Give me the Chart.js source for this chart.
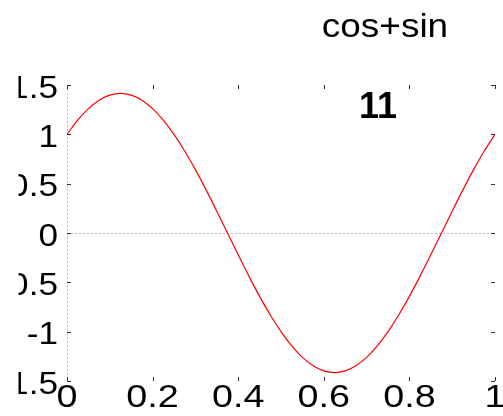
<!DOCTYPE html>
<html>
<head>
<meta charset="utf-8">
<script src="https://cdn.jsdelivr.net/npm/chart.js@4"></script>
<style>
  html, body { margin: 0; padding: 0; background: #fff; }
  #wrap { width: 503px; height: 416px; }
</style>
</head>
<body>
<div id="wrap"><canvas id="c"></canvas></div>
<script>
// sample positions along x and the curve
const xs = [0, 0.025, 0.05, 0.075, 0.1, 0.125, 0.15, 0.175, 0.2, 0.225,
            0.25, 0.275, 0.3, 0.325, 0.35, 0.375, 0.4, 0.425, 0.45, 0.475,
            0.5, 0.525, 0.55, 0.575, 0.6, 0.625, 0.65, 0.675, 0.7, 0.725,
            0.75, 0.775, 0.8, 0.825, 0.85, 0.875, 0.9, 0.925, 0.95, 0.975, 1];
const ys = [1, 1.1441, 1.2601, 1.345, 1.3968, 1.4142, 1.3968, 1.345, 1.2601, 1.1441,
            1, 0.8313, 0.6421, 0.437, 0.2212, 0, -0.2212, -0.437, -0.6421, -0.8313,
            -1, -1.1441, -1.2601, -1.345, -1.3968, -1.4142, -1.3968, -1.345, -1.2601, -1.1441,
            -1, -0.8313, -0.6421, -0.437, -0.2212, 0, 0.2212, 0.437, 0.6421, 0.8313, 1];

const xTickLabels = ['0', '0.2', '0.4', '0.6', '0.8', '1'];
const yTickLabels = ['-1.5', '-1', '-0.5', '0', '0.5', '1', '1.5'];
const titleText = 'cos+sin';
const noteText = '11';

const points = xs.map((x, i) => ({ x: x, y: ys[i] }));

// text in the picture is a bit wider than plain Arial, so stretch it sideways
function wideText(ctx, txt, x, y, stretch, align) {
    ctx.save();
    ctx.translate(x, y);
    ctx.scale(stretch, 1);
    ctx.textAlign = align;
    ctx.fillText(txt, 0, 0);
    ctx.restore();
}

// tick marks inside the box + big tick labels, matlab style
const axisDecor = {
    id: 'axisDecor',
    afterDraw(chart) {
        const ctx = chart.ctx;
        const a = chart.chartArea;
        const sx = chart.scales.x;
        const sy = chart.scales.y;
        ctx.save();
        ctx.strokeStyle = '#333';
        ctx.lineWidth = 1;
        const tl = 4;

        sx.ticks.forEach(t => {
            const px = Math.round(sx.getPixelForValue(t.value)) + 0.5;
            ctx.beginPath();
            ctx.moveTo(px, a.top); ctx.lineTo(px, a.top + tl);
            ctx.moveTo(px, a.bottom); ctx.lineTo(px, a.bottom - tl);
            ctx.stroke();
        });
        sy.ticks.forEach(t => {
            const py = Math.round(sy.getPixelForValue(t.value)) + 0.5;
            ctx.beginPath();
            ctx.moveTo(a.left, py); ctx.lineTo(a.left + tl, py);
            ctx.moveTo(a.right, py); ctx.lineTo(a.right - tl, py);
            ctx.stroke();
        });

        ctx.fillStyle = '#000';
        ctx.textBaseline = 'alphabetic';
        ctx.font = '32px "Liberation Sans", Arial, sans-serif';
        sx.ticks.forEach((t, i) => {
            wideText(ctx, xTickLabels[i], sx.getPixelForValue(t.value), a.bottom + 26, 1.18, 'center');
        });

        // the y labels run off the left edge in the original and get cut near x=18
        ctx.save();
        ctx.beginPath();
        ctx.rect(18.5, 0, chart.width, chart.height);
        ctx.clip();
        sy.ticks.forEach((t, i) => {
            wideText(ctx, yTickLabels[i], a.left - 9, sy.getPixelForValue(t.value) + 12.5, 1.1, 'right');
        });
        ctx.restore();

        ctx.font = '33px "Liberation Sans", Arial, sans-serif';
        wideText(ctx, titleText, 385, 37, 1.12, 'center');
        ctx.font = 'bold 36px "Liberation Sans", Arial, sans-serif';
        wideText(ctx, noteText, 378, 118, 1, 'center');
        ctx.restore();
    }
};

const zeroOnly = (c) => c.tick && c.tick.value === 0 ? '#bdbdbd' : 'rgba(0,0,0,0)';

new Chart(document.getElementById('c'), {
    type: 'line',
    data: {
        datasets: [{
            data: points,
            borderColor: '#ff0000',
            borderWidth: 1.2,
            pointRadius: 0,
            fill: false,
            cubicInterpolationMode: 'monotone'
        }]
    },
    options: {
        responsive: true,
        maintainAspectRatio: false,
        animation: false,
        layout: { padding: { left: 67, right: 8, top: 85, bottom: 35 } },
        plugins: { legend: { display: false }, tooltip: { enabled: false } },
        scales: {
            x: {
                type: 'linear', min: 0, max: 1,
                ticks: { display: false, stepSize: 0.2 },
                grid: { color: zeroOnly, drawTicks: false, lineWidth: 1 },
                border: { display: false, dash: [2, 2] }
            },
            y: {
                min: -1.5, max: 1.5,
                ticks: { display: false, stepSize: 0.5 },
                grid: { color: zeroOnly, drawTicks: false, lineWidth: 1 },
                border: { display: false, dash: [2, 2] }
            }
        }
    },
    plugins: [axisDecor]
});
</script>
</body>
</html>
